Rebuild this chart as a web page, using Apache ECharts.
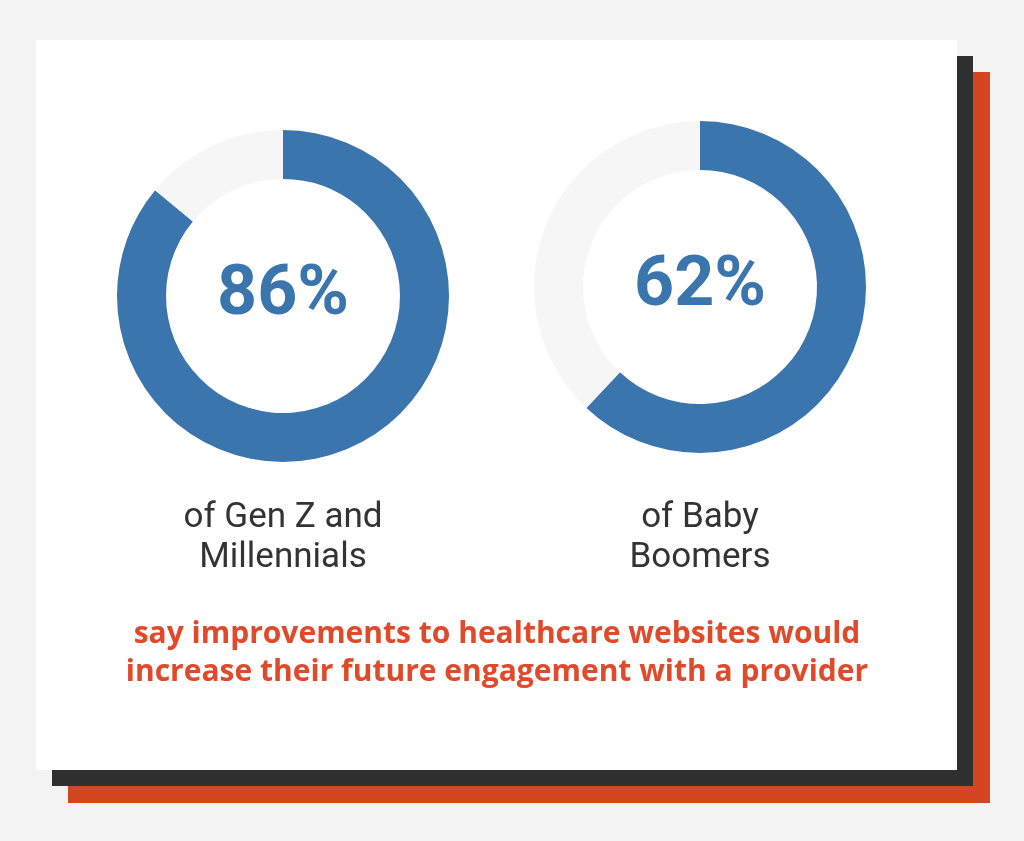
<!DOCTYPE html>
<html><head><meta charset="utf-8">
<script src="https://cdn.jsdelivr.net/npm/echarts@6/dist/echarts.min.js"></script>
<style>html,body{margin:0;padding:0;background:#f3f3f3;}#c{width:1024px;height:841px;}</style>
</head><body><div id="c"></div>
<script>
const groups = ["of Gen Z and\nMillennials", "of Baby\nBoomers"];
const values = [86, 62];
const centers = [[283, 296], [700, 287]];
const caption = "say improvements to healthcare websites would\nincrease their future engagement with a provider";

const chart = echarts.init(document.getElementById('c'));
const series = values.map((v, i) => ({
  type: 'pie', radius: [117, 166], center: centers[i], startAngle: 90, clockwise: true,
  silent: true, label: { show: false }, labelLine: { show: false },
  data: [
    { value: v, itemStyle: { color: '#3a75ae' } },
    { value: 100 - v, itemStyle: { color: '#f6f6f6' } }
  ]
}));
const graphics = [
  { type: 'rect', shape: { x: 68, y: 72, width: 922, height: 731 }, style: { fill: '#d4461f' }, z: -10 },
  { type: 'rect', shape: { x: 52, y: 56, width: 921, height: 730 }, style: { fill: '#2f2f2f' }, z: -9 },
  { type: 'rect', shape: { x: 36, y: 40, width: 921, height: 730 }, style: { fill: '#ffffff' }, z: -8 }
];
values.forEach((v, i) => {
  graphics.push({ type: 'text', x: centers[i][0], y: centers[i][1], z: 10,
    style: { text: v + '%', fill: '#3a75ae', font: 'bold 70px Roboto, sans-serif', textAlign: 'center', textVerticalAlign: 'middle' } });
  graphics.push({ type: 'text', x: centers[i][0], y: 498, z: 10,
    style: { text: groups[i], fill: '#333333', font: '35px Roboto, sans-serif', textAlign: 'center', textVerticalAlign: 'top', lineHeight: 40 } });
});
graphics.push({ type: 'text', x: 497, y: 615, z: 10,
  style: { text: caption, fill: '#e0492a', font: 'bold 30px "Open Sans", sans-serif', textAlign: 'center', textVerticalAlign: 'top', lineHeight: 38 } });

chart.setOption({ animation: false, series: series, graphic: graphics });
</script></body></html>
